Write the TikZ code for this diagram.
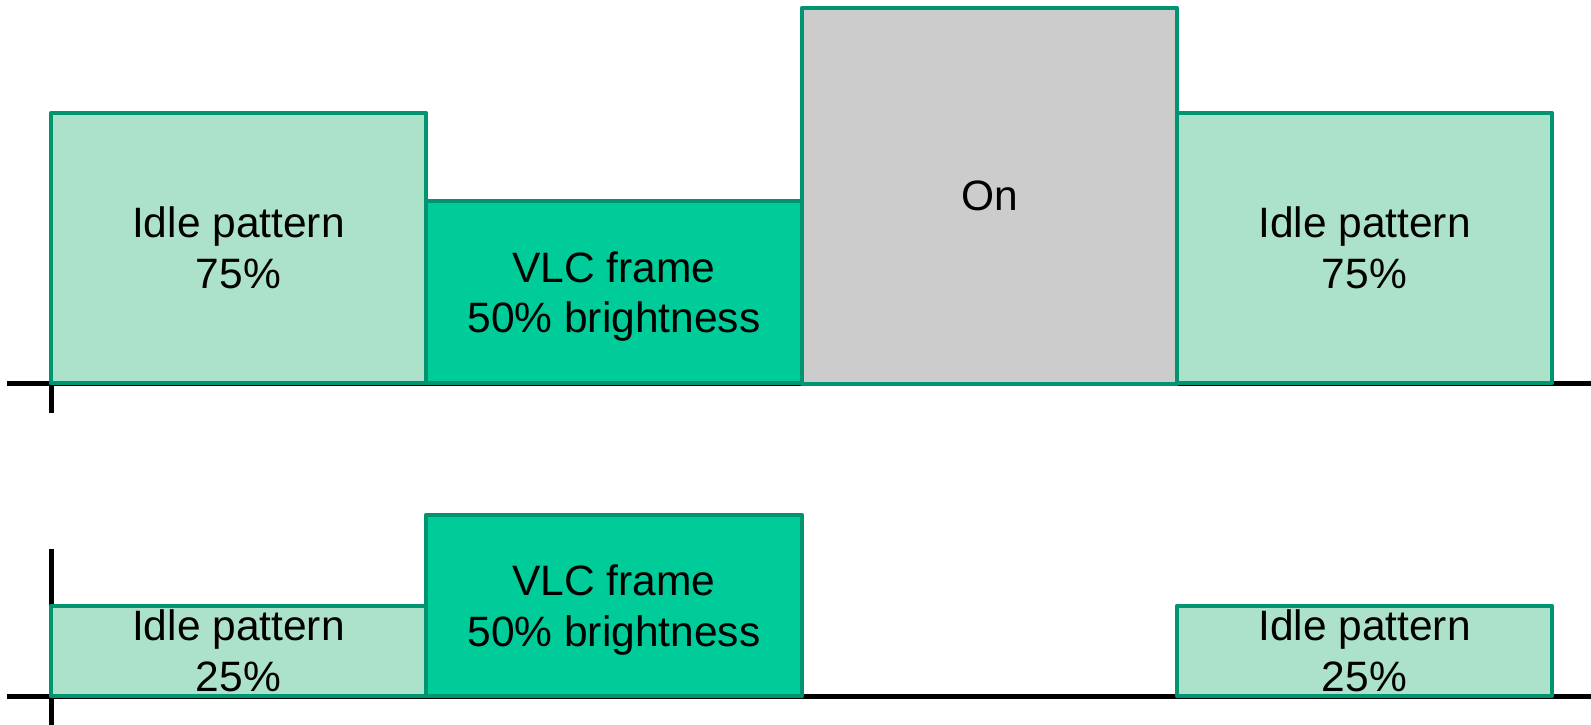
\documentclass[tikz,border=0pt]{standalone}
\usepackage{fontspec}
\setmainfont{Liberation Sans}
\definecolor{idlefill}{RGB}{172,226,202}
\definecolor{vlcfill}{RGB}{0,204,153}
\definecolor{onfill}{RGB}{204,204,204}
\definecolor{boxline}{RGB}{0,148,112}
\tikzset{
  axisline/.style={line width=5pt, black},
  slot/.style={draw=boxline, line width=4.5pt, line join=round, inner sep=0pt, align=center,
    font=\fontsize{42.5}{50.7}\selectfont, text=black},
  idle/.style={slot, fill=idlefill},
  vlc/.style={slot, fill=vlcfill, text depth=0pt},
  onbox/.style={slot, fill=onfill},
}
\begin{document}
\begin{tikzpicture}[x=1pt,y=-1pt]
\useasboundingbox (0,0) rectangle (1591,725);
% axes
\coordinate (a1s) at (7,383);
\coordinate (a1e) at (1591,383);
\coordinate (v1t) at (51,233);
\coordinate (v1b) at (51,413);
\coordinate (a2s) at (7,696);
\coordinate (a2e) at (1591,696);
\coordinate (v2t) at (51,549);
\coordinate (v2b) at (51,725);
\draw[axisline] (a1s) -- (a1e);
\draw[axisline] (v1t) -- (v1b);
\draw[axisline] (a2s) -- (a2e);
\draw[axisline] (v2t) -- (v2b);
% top row
\node[idle, minimum width=375pt, minimum height=270pt] (i1) at (238.5,248) {Idle pattern\\75\%};
\node[vlc, minimum width=376pt, minimum height=182pt] (f1) at (614,292) {VLC frame\\50\% brightness};
\node[onbox, minimum width=375pt, minimum height=376pt] (on) at (989.5,196) {On};
\node[idle, minimum width=375pt, minimum height=270pt] (i2) at (1364.5,248) {Idle pattern\\75\%};
% bottom row
\node[idle, minimum width=375pt, minimum height=90pt] (i3) at (238.5,651) {Idle pattern\\25\%};
\node[vlc, minimum width=376pt, minimum height=181pt] (f2) at (614,605.5) {VLC frame\\50\% brightness};
\node[idle, minimum width=375pt, minimum height=90pt] (i4) at (1364.5,651) {Idle pattern\\25\%};
\end{tikzpicture}
\end{document}
